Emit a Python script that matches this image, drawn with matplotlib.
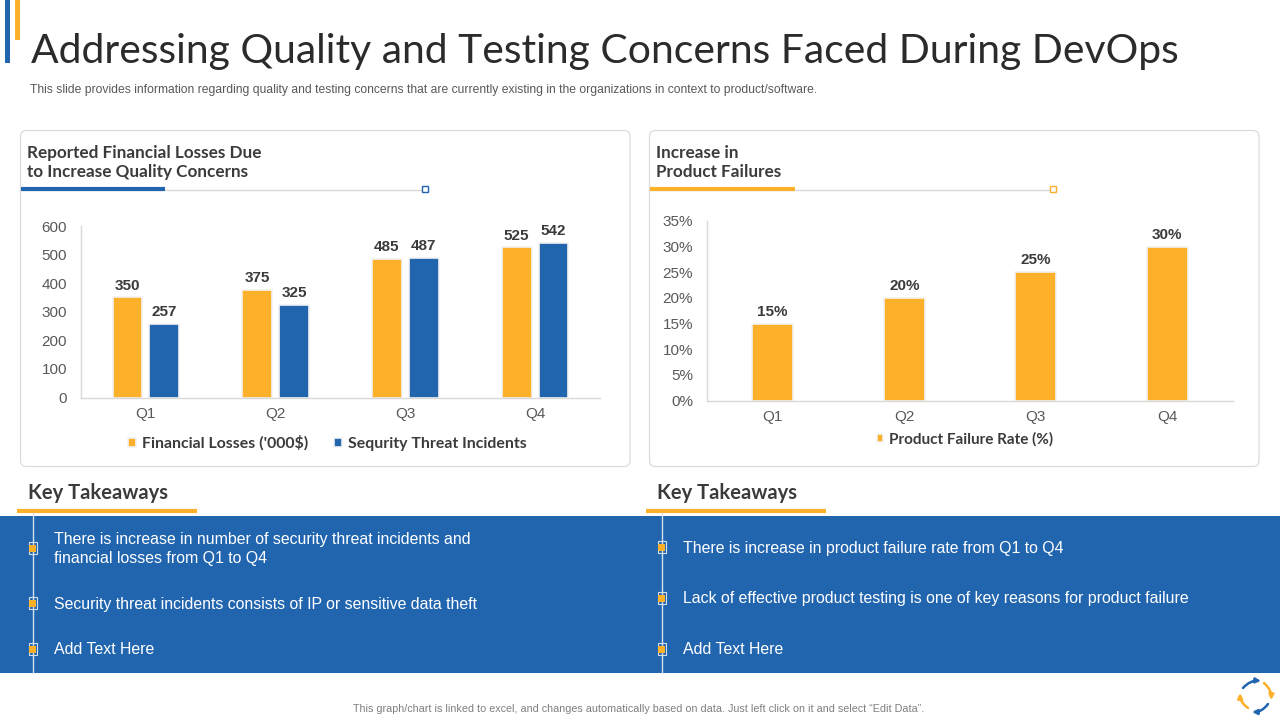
"""Slide with two bar charts and key takeaways on DevOps quality concerns."""

import matplotlib

matplotlib.use("Agg")
import matplotlib.pyplot as plt
from matplotlib.patches import FancyArrowPatch, FancyBboxPatch, Rectangle

BLUE = "#2165AF"
ORANGE = "#FDB02A"
DARK = "#3B3B3B"
GREY = "#595959"
LINE = "#D9D9D9"
W, H = 1280, 720

quarters = ["Q1", "Q2", "Q3", "Q4"]
financial_losses = [350, 375, 485, 525]
security_incidents = [257, 325, 487, 542]
failure_rate = [15, 20, 25, 30]
left_ticks = [0, 100, 200, 300, 400, 500, 600]
right_ticks = [0, 5, 10, 15, 20, 25, 30, 35]

left_points = [
    "There is increase in number of security threat incidents and\nfinancial losses from Q1 to Q4",
    "Security threat incidents consists of IP or sensitive data theft",
    "Add Text Here",
]
right_points = [
    "There is increase in product failure rate from Q1 to Q4",
    "Lack of effective product testing is one of key reasons for product failure",
    "Add Text Here",
]

plt.rcParams["font.family"] = ["Liberation Sans", "DejaVu Sans"]


def chart_axes(fig, x0, x1, y_top, y_bottom):
    ax = fig.add_axes([x0 / W, 1 - y_bottom / H, (x1 - x0) / W, (y_bottom - y_top) / H])
    ax.patch.set_alpha(0)
    for side in ["top", "right"]:
        ax.spines[side].set_visible(False)
    for side in ["left", "bottom"]:
        ax.spines[side].set_color(LINE)
        ax.spines[side].set_linewidth(1.0)
    ax.tick_params(length=0, labelsize=11, labelcolor=GREY)
    ax.set_xlim(-0.5, 3.5)
    return ax


def label_bars(ax, bars, texts):
    ax.bar_label(bars, labels=texts, padding=3.5, fontsize=11, fontweight="bold", color=DARK)


def draw_header(bg, x0, lines, color, thick_end, line_end):
    bg.text(x0 + 7, 153, lines[0], family="Lato", fontsize=12.3, fontweight="bold", color=DARK, va="center")
    bg.text(x0 + 7, 172, lines[1], family="Lato", fontsize=12.3, fontweight="bold", color=DARK, va="center")
    bg.plot([x0, line_end], [189.5, 189.5], color=LINE, lw=1.0, zorder=2)
    bg.plot([x0 + 1, thick_end], [188.5, 188.5], color=color, lw=3, solid_capstyle="butt", zorder=3)
    bg.add_patch(Rectangle((line_end, 186), 5.5, 6, fc="white", ec=color, lw=1.0, zorder=4))


def draw_takeaways(bg, heading_x, line_x, text_x, points, ys):
    bg.text(heading_x, 493, "Key Takeaways", family="Lato", fontsize=14.5, fontweight="bold", color=DARK, va="center")
    bg.plot([line_x - 16, line_x + 164], [510.5, 510.5], color=ORANGE, lw=3, solid_capstyle="butt", zorder=3)
    bg.plot([line_x, line_x], [513, 673], color="#D5E0EE", lw=1.0, zorder=3)
    for text, y in zip(points, ys):
        bg.text(text_x, y + 1, text, color="white", fontsize=11.4, va="center", linespacing=1.3, zorder=4)
        bg.add_patch(Rectangle((line_x - 4, y - 6), 8, 12, fc="none", ec="#D5E0EE", lw=0.8, zorder=4))
        bg.add_patch(Rectangle((line_x - 4, y - 3.5), 7, 7, fc=ORANGE, ec="none", zorder=5))


def draw_logo(bg, cx, cy):
    # four curved arrows going round clockwise
    ends = [
        ((cx - 13, cy - 8), (cx + 5, cy - 15), BLUE),
        ((cx + 8, cy - 13), (cx + 15, cy + 4), ORANGE),
        ((cx + 12, cy + 8), (cx - 4, cy + 16), BLUE),
        ((cx - 8, cy + 12), (cx - 16, cy - 3), ORANGE),
    ]
    for start, end, color in ends:
        bg.add_patch(FancyArrowPatch(start, end, connectionstyle="arc3,rad=-0.25", arrowstyle="-|>",
                                     mutation_scale=7, color=color, lw=1.8, shrinkA=0, shrinkB=0, zorder=3))


fig = plt.figure(figsize=(W / 100, H / 100), dpi=100, facecolor="white")

# background layer in slide pixels
bg = fig.add_axes([0, 0, 1, 1])
bg.set_xlim(0, W)
bg.set_ylim(H, 0)
bg.axis("off")

bg.add_patch(Rectangle((5, 0), 5, 63, fc=BLUE, ec="none"))
bg.add_patch(Rectangle((15, 0), 5, 40, fc=ORANGE, ec="none"))
bg.text(31, 52, "Addressing Quality and Testing Concerns Faced During DevOps", family="Lato",
        fontsize=29.4, color="#2B2B2B", va="center")
bg.text(30, 90, "This slide provides information regarding quality and testing concerns that are currently "
        "existing in the organizations in context to product/software.", fontsize=8.7, color=GREY, va="center")

for x0, x1 in [(20.5, 630), (649.5, 1259)]:
    bg.add_patch(FancyBboxPatch((x0 + 5, 135.5), x1 - x0 - 10, 326, boxstyle="round,pad=5,rounding_size=6",
                                fc="white", ec=LINE, lw=0.8))

draw_header(bg, 20, ["Reported Financial Losses Due", "to Increase Quality Concerns"], BLUE, 165, 422)
draw_header(bg, 649, ["Increase in", "Product Failures"], ORANGE, 795, 1050)

bg.add_patch(Rectangle((0, 516), W, 157, fc=BLUE, ec="none"))
draw_takeaways(bg, 28, 33, 54, left_points, [548, 603, 649])
draw_takeaways(bg, 657, 662, 683, right_points, [547, 598, 649])

bg.text(639, 709, "This graph/chart is linked to excel, and changes automatically based on data. "
        "Just left click on it and select \u201cEdit Data\u201d.", fontsize=7.75, color="#7F7F7F", ha="center", va="center")
draw_logo(bg, 1256, 696)

# left chart
ax1 = chart_axes(fig, 81, 600, 226, 397.5)
width = 0.23
offset = 0.142
pos = list(range(len(quarters)))
bars_a = ax1.bar([p - offset for p in pos], financial_losses, width, color=ORANGE, edgecolor="#F2F2F2",
                 linewidth=1.2, label="Financial Losses ('000$)")
bars_b = ax1.bar([p + offset for p in pos], security_incidents, width, color=BLUE, edgecolor="#F2F2F2",
                 linewidth=1.2, label="Sequrity Threat Incidents")
label_bars(ax1, bars_a, [str(v) for v in financial_losses])
label_bars(ax1, bars_b, [str(v) for v in security_incidents])
ax1.set_ylim(0, 600)
ax1.set_yticks(left_ticks)
ax1.set_xticks(pos, quarters)
ax1.tick_params(axis="x", pad=7)
ax1.tick_params(axis="y", pad=10)
ax1.legend(loc="center", bbox_to_anchor=(0.475, -0.265), ncol=2, frameon=False, handlelength=0.5, handleheight=0.5,
           handletextpad=0.4, columnspacing=1.6, prop={"family": "Lato", "weight": "bold", "size": 11.4},
           labelcolor=DARK)

# right chart
ax2 = chart_axes(fig, 707, 1233, 221, 400.5)
bars_c = ax2.bar(pos, failure_rate, 0.31, color=ORANGE, edgecolor="#F2F2F2", linewidth=1.2,
                 label="Product Failure Rate (%)")
label_bars(ax2, bars_c, [f"{v}%" for v in failure_rate])
ax2.set_ylim(0, 35)
ax2.set_yticks(right_ticks, [f"{v}%" for v in right_ticks])
ax2.set_xticks(pos, quarters)
ax2.tick_params(axis="x", pad=7)
ax2.tick_params(axis="y", pad=10)
ax2.legend(loc="center", bbox_to_anchor=(0.49, -0.215), frameon=False, handlelength=0.4, handleheight=0.4,
           handletextpad=0.4, prop={"family": "Lato", "weight": "bold", "size": 11}, labelcolor=DARK)

fig.savefig("out.png", dpi=100)
